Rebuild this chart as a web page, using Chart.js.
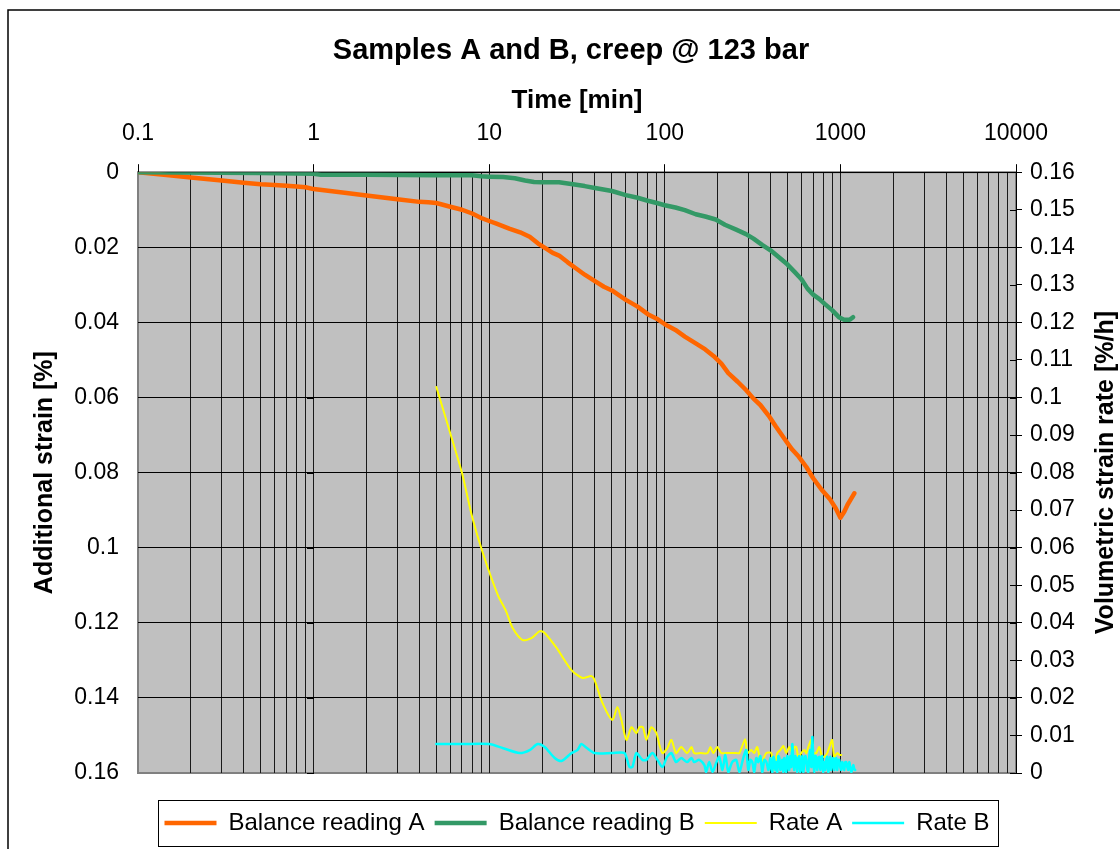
<!DOCTYPE html>
<html>
<head>
<meta charset="utf-8">
<title>Samples A and B, creep @ 123 bar</title>
<script src="https://cdn.jsdelivr.net/npm/chart.js"></script>
<style>
  html, body { margin: 0; padding: 0; background: #fff; }
</style>
</head>
<body>
<canvas id="creepChart" width="1120" height="849"></canvas>
<script>
// time in minutes, strain in %, rates in %/h

const decades = [0.1, 1, 10, 100, 1000, 10000];
const minorSteps = [1, 2, 3, 4, 5, 6, 7, 8, 9];

const timeA = [0.1, 0.15, 0.2, 0.3, 0.4, 0.5, 0.6, 0.7, 0.8, 0.9,
  1, 1.5, 2, 3, 4, 4.5, 5, 6, 7, 8,
  9, 10, 11, 13, 15, 17, 19, 21, 23, 25,
  28, 31, 35, 40, 45, 50, 55, 60, 70, 80,
  90, 100, 115, 130, 150, 170, 190, 210, 230, 260,
  290, 320, 350, 390, 430, 480, 530, 580, 640, 700,
  780, 870, 940, 1000, 1050, 1100, 1150, 1200];
const strainA = [0, 0.0008, 0.0014, 0.0022, 0.0028, 0.0032, 0.0034, 0.0036, 0.0038, 0.004,
  0.0045, 0.0055, 0.0062, 0.0072, 0.0079, 0.008, 0.0082, 0.0092, 0.01, 0.011,
  0.0122, 0.013, 0.0137, 0.015, 0.016, 0.0172, 0.019, 0.0203, 0.0215, 0.0222,
  0.024, 0.0255, 0.0273, 0.029, 0.0305, 0.0315, 0.0328, 0.034, 0.0358, 0.0378,
  0.039, 0.0405, 0.042, 0.0438, 0.0456, 0.0472, 0.049, 0.051, 0.0535, 0.0558,
  0.058, 0.0603, 0.062, 0.0648, 0.0678, 0.071, 0.0738, 0.0758, 0.0785, 0.0815,
  0.0845, 0.087, 0.0895, 0.092, 0.0905, 0.0885, 0.087, 0.0855];

const timeB = [0.1, 0.5, 1, 1.1, 2, 5, 8, 9, 10, 12,
  14, 16, 18, 20, 25, 30, 35, 40, 50, 60,
  70, 80, 90, 100, 115, 130, 150, 170, 195, 220,
  255, 290, 320, 360, 400, 450, 500, 550, 600, 650,
  700, 760, 820, 900, 980, 1050, 1130, 1180];
const strainB = [0, 0.0002, 0.0004, 0.0007, 0.0007, 0.0008, 0.0008, 0.0011, 0.0012, 0.0013,
  0.0016, 0.0022, 0.0026, 0.0027, 0.0027, 0.0032, 0.0037, 0.0042, 0.005, 0.0061,
  0.0068, 0.0076, 0.0082, 0.0088, 0.0094, 0.0101, 0.0112, 0.0118, 0.0126, 0.014,
  0.0153, 0.0165, 0.0177, 0.0194, 0.0208, 0.0228, 0.0246, 0.0266, 0.0285, 0.031,
  0.0326, 0.0338, 0.0352, 0.0368, 0.0386, 0.0393, 0.0393, 0.0386];

const timeRateA = [5, 6, 7, 8, 9.2, 11.2, 12.5, 13.6, 15.5, 17.4,
  19.4, 20.7, 24.2, 29.4, 34, 38.2, 39.8, 44.2, 50.3, 53.7,
  56.6, 60.5, 64.6, 68.9, 71.7, 75, 78.6, 83.9, 89.6, 93.2,
  96.9, 103, 109, 116, 124, 134, 142, 147, 160, 175,
  182, 189, 199, 210, 225, 240, 255, 266, 287, 295,
  311, 323, 336, 354, 378, 404, 420, 437, 455, 473,
  492, 511, 532, 546, 561, 576, 598, 623, 639, 656,
  682, 691, 710, 729, 758, 788, 809, 841, 870, 898,
  922, 959, 990, 1011];
const rateA = [0.1028, 0.0905, 0.0799, 0.0682, 0.0586, 0.0474, 0.043, 0.0386, 0.0354, 0.0359,
  0.0378, 0.0373, 0.0333, 0.0274, 0.0253, 0.0258, 0.0248, 0.0186, 0.0141, 0.0176,
  0.0141, 0.0088, 0.0122, 0.0106, 0.0122, 0.0122, 0.0088, 0.0122, 0.0106, 0.0075,
  0.0053, 0.0065, 0.0088, 0.0053, 0.0069, 0.0053, 0.0069, 0.0053, 0.0053, 0.0053,
  0.0069, 0.0053, 0.0069, 0.0053, 0.0053, 0.0053, 0.0053, 0.0053, 0.009, 0.0053,
  0.0061, 0.0053, 0.0069, 0.0027, 0.0053, 0.0053, 0.0008, 0.0053, 0.0061, 0.0072,
  0.0053, 0.0069, 0.0053, 0.0069, 0.0069, 0.0043, 0.0053, 0.0061, 0.0053, 0.0069,
  0.0088, 0.0043, 0.0053, 0.0053, 0.0069, 0.0043, 0.0043, 0.0053, 0.0072, 0.0088,
  0.0043, 0.0053, 0.0048, 0.0048];

const timeRateB = [5, 7, 10, 12, 14.9, 17, 18.9, 20.7, 23.6, 25.8,
  29.4, 31.8, 33.5, 35.8, 39.8, 50, 58.9, 62.9, 65.4, 68.9,
  74.6, 78.6, 85, 90.8, 96.9, 103, 109, 116, 124, 134,
  142, 147, 157, 168, 172, 179, 187, 197, 204, 213,
  221, 230, 242, 255, 266, 276, 283, 291, 299, 307,
  315, 323, 332, 341, 350, 359, 369, 379, 389, 399,
  404, 410, 415, 421, 426, 432, 437, 443, 449, 455,
  461, 467, 473, 479, 485, 492, 498, 505, 511, 518,
  525, 532, 539, 546, 553, 561, 568, 576, 583, 591,
  599, 607, 615, 623, 631, 639, 647, 656, 665, 674,
  683, 692, 701, 710, 719, 729, 738, 748, 758, 768,
  778, 788, 798, 809, 820, 831, 842, 853, 864, 876,
  887, 899, 911, 923, 935, 947, 959, 972, 985, 998,
  1011, 1024, 1038, 1052, 1066, 1080, 1094, 1108, 1123, 1138,
  1153, 1168, 1184, 1199, 1214];
const rateB = [0.0077, 0.0077, 0.0077, 0.0066, 0.0053, 0.0061, 0.0077, 0.0069, 0.004, 0.0032,
  0.0053, 0.0061, 0.0077, 0.0067, 0.0053, 0.0053, 0.0053, 0.0016, 0.0016, 0.0053,
  0.0035, 0.0035, 0.0053, 0.0035, 0.0016, 0.0043, 0.0053, 0.0029, 0.004, 0.0029,
  0.004, 0.0029, 0.0035, 0.0021, 0.0003, 0.0029, 0.0003, 0.0029, 0.0043, 0.0008,
  0.0048, 0.0003, 0.0029, 0.0035, 0.0003, 0.0029, 0.0048, 0.0061, 0.0008, 0.0035,
  0.0029, 0.0003, 0.004, 0.0029, 0.0045, 0.0003, 0.0035, 0.0029, 0.0008, 0.004,
  0.0011, 0.0003, 0.0043, 0.0035, 0.0008, 0.0029, 0.0003, 0.0045, 0.004, 0.0008,
  0.0021, 0.0035, 0.0003, 0.004, 0.0011, 0.0003, 0.0045, 0.0037, 0.0008, 0.0045,
  0.0016, 0.0077, 0.004, 0.0008, 0.0045, 0.0035, 0.0003, 0.004, 0.0045, 0.0003,
  0.0016, 0.0045, 0.0003, 0.0029, 0.0045, 0.0037, 0.0011, 0.0003, 0.0045, 0.0061,
  0.0016, 0.0096, 0.004, 0.0003, 0.0045, 0.0043, 0.0008, 0.0035, 0.0043, 0.0008,
  0.004, 0.0045, 0.0003, 0.0029, 0.0008, 0.0035, 0.0043, 0.0003, 0.0016, 0.0043,
  0.0008, 0.0029, 0.004, 0.0008, 0.0035, 0.004, 0.0008, 0.0035, 0.0035, 0.0016,
  0.0008, 0.0029, 0.0021, 0.0008, 0.0029, 0.0029, 0.0016, 0.0008, 0.0029, 0.0016,
  0.0003, 0.0008, 0.0021, 0.0011, 0.0008];

// every 1..9 step of each decade, so each one gets a grid line
const timeTicks = [];
decades.slice(0, -1).forEach(d => minorSteps.forEach(m => timeTicks.push(Number((d * m).toPrecision(3)))));
timeTicks.push(decades[decades.length - 1]);

function pairs(xs, ys) { return xs.map((x, i) => ({ x: x, y: ys[i] })); }
function fmt(v) { return String(Number(v.toFixed(2))); }

const CLEAR = 'rgba(0,0,0,0)';
const LEGEND_SHIFT = 28;

Chart.defaults.font.family = "'Liberation Sans', Arial, sans-serif";
Chart.defaults.color = '#000';

// grey plot area, its frame and the outer frame of the chart
const plotFrame = {
  id: 'plotFrame',
  beforeDraw(chart) {
    const { ctx, chartArea: a } = chart;
    ctx.save();
    ctx.strokeStyle = '#000';
    ctx.lineWidth = 1.5;
    ctx.strokeRect(8, 10, chart.width + 20, chart.height + 20);
    ctx.fillStyle = '#c0c0c0';
    ctx.fillRect(a.left, a.top, a.width, a.height);
    ctx.strokeStyle = '#808080';
    ctx.lineWidth = 2;
    ctx.strokeRect(a.left, a.top, a.width, a.height);
    ctx.restore();
  }
};

// strain axis crosses the time axis at 1 min; right axis ticks cross the line
const axisTicks = {
  id: 'axisTicks',
  beforeDatasetsDraw(chart) {
    const { ctx, chartArea: a, scales } = chart;
    const px = Math.round(scales.x.getPixelForValue(1));
    ctx.save();
    ctx.strokeStyle = '#000';
    ctx.lineWidth = 1;
    ctx.beginPath();
    scales.y.ticks.forEach(t => {
      const py = Math.round(scales.y.getPixelForValue(t.value)) + 0.5;
      ctx.moveTo(px - 7, py);
      ctx.lineTo(px, py);
    });
    scales.y1.ticks.forEach(t => {
      const py = Math.round(scales.y1.getPixelForValue(t.value)) + 0.5;
      ctx.moveTo(a.right - 6, py);
      ctx.lineTo(a.right, py);
    });
    ctx.stroke();
    ctx.restore();
  }
};

// right axis title reads bottom to top
const rightTitle = {
  id: 'rightTitle',
  afterDraw(chart) {
    const { ctx, chartArea: a } = chart;
    ctx.save();
    ctx.translate(chart.scales.y1.right - 14, (a.top + a.bottom) / 2);
    ctx.rotate(-Math.PI / 2);
    ctx.font = "bold 25px 'Liberation Sans', Arial, sans-serif";
    ctx.fillStyle = '#000';
    ctx.textAlign = 'center';
    ctx.textBaseline = 'middle';
    ctx.fillText('Volumetric strain rate [%/h]', 0, 0);
    ctx.restore();
  }
};

// legend sits lower than the layout puts it and has a frame
const legendFrame = {
  id: 'legendFrame',
  afterLayout(chart) {
    chart.legend.top += LEGEND_SHIFT;
    chart.legend.bottom += LEGEND_SHIFT;
  },
  afterDraw(chart) {
    const lg = chart.legend;
    const boxes = lg.legendHitBoxes;
    if (!boxes || !boxes.length) return;
    const first = boxes[0], last = boxes[boxes.length - 1];
    const left = Math.round(first.left - 6) + 0.5;
    const right = Math.round(last.left + last.width + 8) + 0.5;
    const ctx = chart.ctx;
    ctx.save();
    ctx.strokeStyle = '#000';
    ctx.lineWidth = 1;
    ctx.strokeRect(left, Math.round(lg.top - 1) + 0.5, right - left, 46);
    ctx.restore();
  }
};

new Chart(document.getElementById('creepChart'), {
  type: 'line',
  data: {
    datasets: [
      { label: 'Balance reading A', data: pairs(timeA, strainA), yAxisID: 'y',
        borderColor: '#ff6600', backgroundColor: '#ff6600', borderWidth: 4.5, order: 3 },
      { label: 'Balance reading B', data: pairs(timeB, strainB), yAxisID: 'y',
        borderColor: '#339966', backgroundColor: '#339966', borderWidth: 4.5, order: 2 },
      { label: 'Rate A', data: pairs(timeRateA, rateA), yAxisID: 'y1',
        borderColor: '#ffff00', backgroundColor: '#ffff00', borderWidth: 2, tension: 0.25, order: 1 },
      { label: 'Rate B', data: pairs(timeRateB, rateB), yAxisID: 'y1',
        borderColor: '#00ffff', backgroundColor: '#00ffff', borderWidth: 2.5, tension: 0.25, order: 0 }
    ]
  },
  options: {
    responsive: false,
    animation: false,
    devicePixelRatio: 1,
    events: [],
    elements: {
      point: { radius: 0 },
      line: { tension: 0, borderJoinStyle: 'round', borderCapStyle: 'round' }
    },
    layout: { padding: { top: 10, left: 22, right: 0, bottom: 32 } },
    plugins: {
      title: {
        display: true,
        text: 'Samples A and B, creep @ 123 bar',
        font: { size: 29, weight: 'bold' },
        padding: { top: 24, bottom: 4 }
      },
      legend: {
        position: 'bottom',
        fullSize: false,
        labels: {
          usePointStyle: true,
          pointStyle: 'line',
          pointStyleWidth: 52,
          padding: 10,
          font: { size: 24 },
          sort: (a, b) => a.datasetIndex - b.datasetIndex
        }
      },
      tooltip: { enabled: false }
    },
    scales: {
      x: {
        type: 'logarithmic',
        position: 'top',
        min: 0.1,
        max: 10000,
        afterBuildTicks: s => { s.ticks = timeTicks.map(v => ({ value: v })); },
        afterFit: s => { s.height = 99.4; },
        ticks: {
          autoSkip: false,
          maxRotation: 0,
          padding: 17,
          font: { size: 23 },
          callback: v => decades.includes(v) ? String(v) : ''
        },
        grid: {
          color: c => (c.tick && c.tick.value === decades[0]) ? CLEAR : '#1a1a1a',
          tickColor: c => (c.tick && decades.includes(c.tick.value)) ? '#000' : CLEAR,
          tickLength: 8
        },
        border: { color: '#000', width: 1 },
        title: {
          display: true,
          text: 'Time [min]',
          font: { size: 26, weight: 'bold' },
          padding: { top: 12, bottom: 0 }
        }
      },
      y: {
        type: 'linear',
        position: 'left',
        reverse: true,
        min: 0,
        max: 0.16,
        afterFit: s => { s.width = 116; },
        ticks: { stepSize: 0.02, autoSkip: false, padding: 19, font: { size: 23 }, callback: v => fmt(v) },
        grid: {
          color: c => (c.tick && c.tick.value > 0.159) ? CLEAR : '#000',
          drawTicks: false
        },
        border: { display: false },
        title: {
          display: true,
          text: 'Additional strain [%]',
          font: { size: 25, weight: 'bold' },
          padding: { top: 8, bottom: 0 }
        }
      },
      y1: {
        type: 'linear',
        position: 'right',
        min: 0,
        max: 0.16,
        afterFit: s => { s.width = 104; },
        ticks: { stepSize: 0.01, autoSkip: false, padding: 8, font: { size: 23 }, callback: v => fmt(v) },
        grid: { drawOnChartArea: false, tickLength: 6, tickColor: '#000' },
        border: { color: '#000', width: 1 }
      }
    }
  },
  plugins: [plotFrame, axisTicks, rightTitle, legendFrame]
});
</script>
</body>
</html>
